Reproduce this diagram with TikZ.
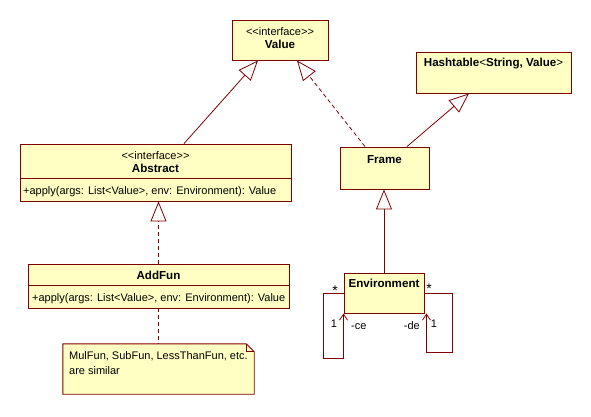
\documentclass[tikz,border=0pt]{standalone}
\usepackage{fontspec}
\setmainfont{Liberation Sans}
\usetikzlibrary{arrows.meta}
\definecolor{umlline}{RGB}{128,0,0}
\definecolor{umlfill}{RGB}{255,255,196}
\tikzset{
  cls/.style={draw=umlline, fill=umlfill, line width=0.9pt, rectangle, inner sep=0pt},
  txt/.style={font=\fontsize{11}{13}\selectfont, inner sep=0pt, anchor=base},
  btxt/.style={txt, font=\fontsize{11.6}{13}\selectfont\bfseries},
  startxt/.style={txt, font=\fontsize{14}{14}\selectfont},
  conn/.style={draw=umlline, line width=0.8pt},
  gen/.style={conn, -{Triangle[open, length=20pt, width=16pt, fill=white]}},
  real/.style={gen, dash pattern=on 4pt off 3pt},
  nav/.style={conn, -{Straight Barb[length=6pt, width=8pt]}},
  dep/.style={conn, dash pattern=on 4pt off 3pt},
}
\begin{document}
\begin{tikzpicture}[x=1pt, y=-1pt]
\useasboundingbox (0,0) rectangle (591,416);
\fill[white] (0,0) rectangle (591,416);

% Value
\node[cls, minimum width=96pt, minimum height=40pt] (value) at (280,40) {};
\node[txt] (valueSt) at (280,35) {<{}<interface>{}>};
\node[btxt] (valueN) at (280,48) {Value};

% Hashtable
\node[cls, minimum width=155pt, minimum height=41pt] (hash) at (493.5,72.5) {};
\node[btxt] (hashN) at (493.5,66) {Hashtable\textmd{<}String, Value\textmd{>}};

% Abstract
\node[cls, minimum width=271pt, minimum height=57pt] (abstract) at (155.5,172.5) {};
\draw[draw=umlline, line width=0.9pt] (abstract.west |- 0,178) coordinate (absdl) -- (abstract.east |- 0,178) coordinate (absdr);
\node[txt] (absSt) at (155.5,159) {<{}<interface>{}>};
\node[btxt] (absN) at (155.5,172) {Abstract};
\node[txt, anchor=base west] (absOp) at (23,194) {+apply(args: List<Value>, env: Environment): Value};

% AddFun
\node[cls, minimum width=261pt, minimum height=44pt] (addfun) at (158.5,286) {};
\draw[draw=umlline, line width=0.9pt] (addfun.west |- 0,285) coordinate (adddl) -- (addfun.east |- 0,285) coordinate (adddr);
\node[btxt] (addN) at (158.5,279) {AddFun};
\node[txt, anchor=base west] (addOp) at (32,301) {+apply(args: List<Value>, env: Environment): Value};

% Frame
\node[cls, minimum width=89pt, minimum height=42pt] (frame) at (384.5,168) {};
\node[btxt] (frameN) at (384.5,163) {Frame};

% Environment
\node[cls, minimum width=80pt, minimum height=40pt] (env) at (384,293) {};
\node[btxt] (envN) at (384,287) {Environment};

% Note
\node[minimum width=191pt, minimum height=50pt, inner sep=0pt] (note) at (158.5,369) {};
\filldraw[draw=umlline, fill=umlfill, line width=0.9pt]
  (note.north west) -- ([xshift=-8pt]note.north east) -- ([yshift=-8pt]note.north east)
  -- (note.south east) -- (note.south west) -- cycle;
\draw[draw=umlline, line width=0.8pt]
  ([xshift=-8pt]note.north east) -- ([xshift=-8pt,yshift=-8pt]note.north east) -- ([yshift=-8pt]note.north east);
\node[txt, anchor=base west] (noteL1) at (69,359) {MulFun, SubFun, LessThanFun, etc.};
\node[txt, anchor=base west] (noteL2) at (69,374) {are similar};

% Connectors
\draw[gen] ([xshift=28.5pt]abstract.north) -- ([xshift=-22pt]value.south);
\draw[real] ([xshift=-19.5pt]frame.north) -- ([xshift=17pt]value.south);
\draw[gen] ([xshift=22.5pt]frame.north) -- ([xshift=-24.5pt]hash.south);
\draw[gen] (env.north) -- (env.north |- frame.south);
\draw[real] (addfun.north) -- (addfun.north |- abstract.south);
\draw[dep] (addfun.south) -- (addfun.south |- note.north);

% Self associations
\draw[nav] (env.west) -- ++(-20,0) -- ++(0,65) -| (env.south west);
\draw[nav] (env.east) -- ++(28,0) -- ++(0,59) -| ([xshift=2pt]env.south east);

\node[startxt] (ms1) at (335,295) {*};
\node[startxt] (ms2) at (429,293) {*};
\node[txt] (m1a) at (334,327) {1};
\node[txt, anchor=base west] (rce) at (351,329) {-ce};
\node[txt, anchor=base east] (rde) at (420,329) {-de};
\node[txt] (m1b) at (434,327) {1};
\end{tikzpicture}
\end{document}
